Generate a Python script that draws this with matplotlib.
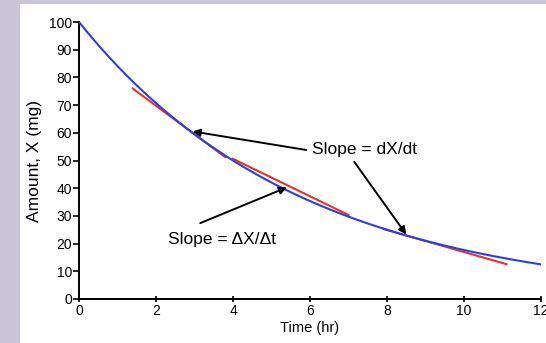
import numpy as np
import matplotlib.pyplot as plt
from matplotlib.patches import Rectangle

# curve: first-order decay, 100 mg start, half-life 4 hr
dose = 100.0
half_life = 4.0
t_max = 12.0

# tangent points (t, start, end) and the secant interval
tangents = [(3.0, 1.4, 3.8), (8.5, 7.9, 11.1)]
secant = (4.0, 7.0)

x_ticks = [0, 2, 4, 6, 8, 10, 12]
y_ticks = [0, 10, 20, 30, 40, 50, 60, 70, 80, 90, 100]

plt.rcParams['font.family'] = ['Liberation Sans', 'DejaVu Sans']

k = np.log(2) / half_life
amount = lambda t: dose * np.exp(-k * t)

fig = plt.figure(figsize=(5.46, 3.43), dpi=100, facecolor='#c9c4d7')
fig.patches.append(Rectangle((20 / 546, 0), 1, 1 - 4 / 343, transform=fig.transFigure,
                             facecolor='white', edgecolor='none', zorder=-10))
ax = fig.add_axes([79 / 546, 44 / 343, 462 / 546, 277 / 343])
ax.set_facecolor('none')
ax.set_zorder(5)

t = np.linspace(0, t_max, 300)
ax.plot(t, amount(t), color='#2a3fe0', lw=1.5, zorder=3)

for t0, a, b in tangents:
    tt = np.array([a, b])
    ax.plot(tt, amount(t0) - k * amount(t0) * (tt - t0), color='#e8322a', lw=1.5, zorder=2)

s0, s1 = secant
ax.plot([s0, s1], [amount(s0) + 0.6, amount(s1) + 0.6], color='#e8322a', lw=1.5, zorder=2)

arrow = dict(arrowstyle='-|>', color='black', lw=1.4, mutation_scale=11, shrinkA=0, shrinkB=0)
ax.annotate('', xy=(2.95, 60.5), xytext=(5.9, 53.8), arrowprops=arrow)
ax.annotate('', xy=(8.5, 23.3), xytext=(7.15, 49.5), arrowprops=arrow)
ax.annotate('', xy=(5.4, 40.3), xytext=(3.15, 27.4), arrowprops=arrow)

ax.text(6.05, 53.8, 'Slope = dX/dt', fontsize=12.5, va='center', ha='left')
ax.text(3.72, 21.3, 'Slope = ΔX/Δt', fontsize=12.5, va='center', ha='center')

ax.set_xlim(0, t_max)
ax.set_ylim(0, 100)
ax.set_xticks(x_ticks)
ax.set_yticks(y_ticks)
ax.tick_params(axis='both', labelsize=10, width=1.2, length=4, pad=1, direction='out')
ax.tick_params(axis='x', direction='inout', length=5)
for s in ['top', 'right']:
    ax.spines[s].set_visible(False)
for s in ['left', 'bottom']:
    ax.spines[s].set_linewidth(1.4)
ax.set_xlabel('Time (hr)', fontsize=10.5, labelpad=2)
ax.set_ylabel('Amount, X (mg)', fontsize=12.5, labelpad=5)

fig.savefig('out.png', dpi=100, facecolor=fig.get_facecolor())
